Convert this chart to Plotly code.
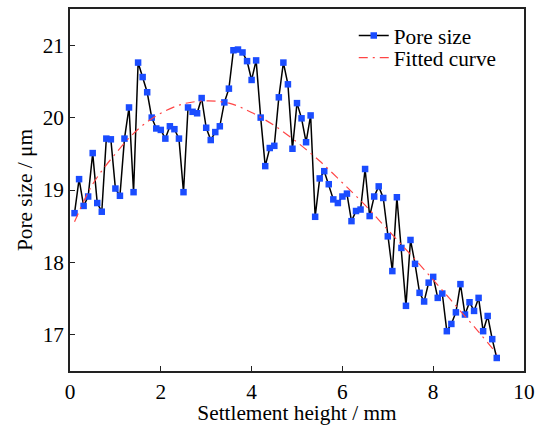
import plotly.graph_objects as go

# Measured data (settlement height in mm, pore size in um)
height = [0.1, 0.2, 0.3, 0.4, 0.5, 0.6, 0.7, 0.8, 0.9, 1.0,
          1.1, 1.2, 1.3, 1.4, 1.5, 1.6, 1.7, 1.8, 1.9, 2.0,
          2.1, 2.2, 2.3, 2.4, 2.5, 2.6, 2.7, 2.8, 2.9, 3.0,
          3.1, 3.2, 3.3, 3.4, 3.5, 3.6, 3.7, 3.8, 3.9, 4.0,
          4.1, 4.2, 4.3, 4.4, 4.5, 4.6, 4.7, 4.8, 4.9, 5.0,
          5.1, 5.2, 5.3, 5.4, 5.5, 5.6, 5.7, 5.8, 5.9, 6.0,
          6.1, 6.2, 6.3, 6.4, 6.5, 6.6, 6.7, 6.8, 6.9, 7.0,
          7.1, 7.2, 7.3, 7.4, 7.5, 7.6, 7.7, 7.8, 7.9, 8.0,
          8.1, 8.2, 8.3, 8.4, 8.5, 8.6, 8.7, 8.8, 8.9, 9.0,
          9.1, 9.2, 9.3, 9.4]
pore_size = [18.68, 19.15, 18.78, 18.91, 19.51, 18.82, 18.70, 19.71, 19.70, 19.02,
             18.92, 19.71, 20.14, 18.97, 20.76, 20.56, 20.35, 20.00, 19.85, 19.83,
             19.71, 19.88, 19.84, 19.71, 18.97, 20.14, 20.08, 20.06, 20.27, 19.86,
             19.69, 19.80, 19.88, 20.21, 20.40, 20.93, 20.94, 20.90, 20.78, 20.52,
             20.79, 20.00, 19.33, 19.58, 19.61, 20.28, 20.76, 20.46, 19.57, 20.20,
             19.99, 19.66, 20.03, 18.63, 19.16, 19.26, 19.08, 18.87, 18.82, 18.91,
             18.95, 18.57, 18.71, 18.73, 19.29, 18.64, 18.91, 19.05, 18.89, 18.36,
             17.88, 18.90, 18.20, 17.40, 18.31, 17.98, 17.58, 17.46, 17.72, 17.80,
             17.51, 17.57, 17.05, 17.15, 17.31, 17.70, 17.28, 17.45, 17.33, 17.51,
             17.05, 17.26, 16.94, 16.68]

# Fitted curve
fit_x = [0.1, 0.5, 1.0, 1.5, 2.0, 2.5, 3.0, 3.5, 4.0, 4.5,
         5.0, 5.5, 6.0, 6.5, 7.0, 7.5, 8.0, 8.5, 9.0, 9.4]
fit_y = [18.56, 19.08, 19.50, 19.84, 20.06, 20.19, 20.23, 20.20, 20.07, 19.89,
         19.66, 19.40, 19.10, 18.79, 18.45, 18.11, 17.76, 17.40, 17.04, 16.74]

x_ticks = [0, 2, 4, 6, 8, 10]
y_ticks = [17, 18, 19, 20, 21]

FONT = "Liberation Serif"
FS = 21.3

fig = go.Figure()
fig.add_trace(go.Scatter(
    x=height, y=pore_size, mode="lines+markers", name="Pore size",
    line=dict(color="black", width=1.5),
    marker=dict(symbol="square", size=6.5, color="#1a4cff"),
    legend="legend",
))
fig.add_trace(go.Scatter(
    x=fit_x, y=fit_y, mode="lines", name="Fitted curve",
    line=dict(color="#ff4545", width=1.2, dash="9px,5px,2px,5px", shape="spline"),
    legend="legend2",
))

axis_common = dict(
    showline=True, linecolor="#222", linewidth=1.5, mirror=True,
    ticks="inside", ticklen=5, tickwidth=1.2, tickcolor="#222",
    showgrid=False, zeroline=False, automargin=False,
    tickfont=dict(family=FONT, size=FS, color="black"),
)

leg_common = dict(xanchor="left", yanchor="top", bgcolor="rgba(0,0,0,0)", borderwidth=0,
                  font=dict(family=FONT, size=FS, color="black"), itemwidth=30)

fig.update_layout(
    width=539, height=425,
    margin=dict(l=70, r=15, t=9, b=54),
    paper_bgcolor="white", plot_bgcolor="white",
    font=dict(family=FONT, size=FS, color="black"),
    xaxis=dict(range=[0, 10], tickvals=x_ticks, ticklabelstandoff=1,
               title=dict(text="Settlement height / mm", font=dict(family=FONT, size=FS), standoff=2),
               **axis_common),
    yaxis=dict(range=[16.5, 21.5], tickvals=y_ticks,
               title=dict(text="Pore size / μm", font=dict(family=FONT, size=FS), standoff=4),
               **axis_common),
    legend=dict(x=0.625, y=0.983, **leg_common),
    legend2=dict(x=0.625, y=0.922, **leg_common),
    showlegend=True,
)

fig.write_html("out.html")
